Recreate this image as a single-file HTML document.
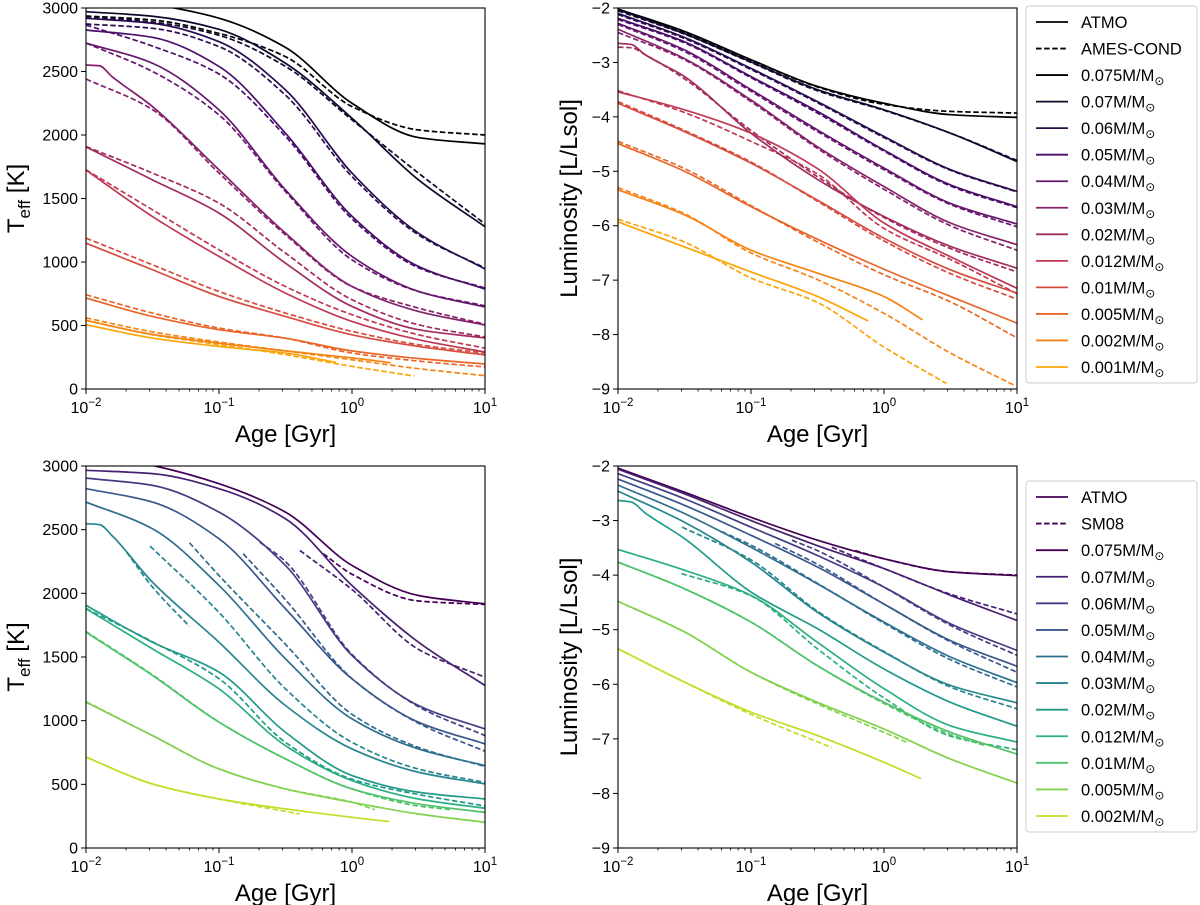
<!DOCTYPE html>
<html><head><meta charset="utf-8">
<style>
body{margin:0;background:#fff;}
svg{display:block;font-family:"Liberation Sans","DejaVu Sans",sans-serif;}
</style></head>
<body>
<svg id="fig" width="1200" height="905" viewBox="0 0 1200 905" xmlns="http://www.w3.org/2000/svg"></svg>
<script>
// ---------- shared data ----------
const GRID = [0.01, 0.0316, 0.1, 0.316, 1, 3.16, 10];
const JOG = [0.01, 0.0126, 0.0158, 0.0316, 0.1, 0.316, 1, 3.16, 10];
const topMasses = ["0.075","0.07","0.06","0.05","0.04","0.03","0.02","0.012","0.01","0.005","0.002","0.001"];
const botMasses = ["0.075","0.07","0.06","0.05","0.04","0.03","0.02","0.012","0.01","0.005","0.002"];
const yTicksTeff = [0,500,1000,1500,2000,2500,3000];
const yTicksLum = [-9,-8,-7,-6,-5,-4,-3,-2];
const xTickExp = [-2,-1,0,1];

// ---------- top-left: Teff, ATMO vs AMES-COND ----------
const tlSolidAges = [GRID,GRID,GRID,GRID,GRID,[0.01,0.0126,0.0158,0.0316,0.1,0.316,1,3.16,10],GRID,GRID,GRID,GRID,[0.01,0.0316,0.1,0.316,1,1.95],[0.01,0.0316,0.1,0.316,0.76]];
const tlSolidVals = [
 [3100,3030,2920,2690,2250,1980,1930],
 [2971,2935,2832,2565,2132,1647,1278],
 [2919,2880,2735,2355,1700,1227,945],
 [2827,2769,2540,2014,1360,965,787],
 [2724,2565,2198,1568,1044,768,646],
 [2551,2545,2457,2224,1726,1227,807,611,504],
 [1906,1647,1385,991,650,467,402],
 [1724,1358,1044,755,532,388,291],
 [1148,939,729,571,427,335,268],
 [716,571,467,400,300,240,197],
 [540,430,360,300,245,207],
 [506,401,335,283,210]
];
const tlDashAges = [GRID,GRID,GRID,GRID,GRID,GRID,GRID,GRID,GRID,GRID,GRID,[0.01,0.0316,0.1,0.316,1,2.95]];
const tlDashVals = [
 [2937,2906,2800,2617,2224,2040,2000],
 [2932,2890,2785,2540,2119,1700,1300],
 [2874,2840,2696,2314,1673,1214,952],
 [2866,2700,2480,1990,1340,955,795],
 [2724,2500,2158,1555,1017,768,655],
 [2441,2200,1700,1214,807,637,510],
 [1909,1700,1463,1070,703,506,410],
 [1726,1411,1096,807,585,427,322],
 [1188,978,768,598,454,349,283],
 [742,598,480,400,283,220,173],
 [560,450,370,300,230,160,105],
 [540,427,349,270,178,102]
];

// ---------- top-right: Luminosity, ATMO vs AMES-COND ----------
const trSolidAges = [GRID,GRID,GRID,GRID,GRID,GRID,JOG,GRID,GRID,GRID,[0.01,0.0316,0.1,0.316,1,1.95],[0.01,0.0316,0.1,0.316,0.76]];
const trSolidVals = [
 [-2.02,-2.43,-2.95,-3.44,-3.75,-3.96,-4.01],
 [-2.03,-2.47,-2.99,-3.50,-3.87,-4.30,-4.82],
 [-2.10,-2.54,-3.11,-3.72,-4.36,-4.97,-5.37],
 [-2.19,-2.62,-3.26,-3.90,-4.61,-5.25,-5.65],
 [-2.28,-2.77,-3.50,-4.24,-4.94,-5.59,-5.97],
 [-2.39,-2.93,-3.69,-4.55,-5.28,-5.95,-6.35],
 [-2.65,-2.67,-2.85,-3.26,-4.30,-5.15,-5.83,-6.38,-6.78],
 [-3.54,-3.87,-4.30,-4.95,-5.95,-6.57,-7.15],
 [-3.75,-4.27,-4.85,-5.53,-6.23,-6.81,-7.24],
 [-4.49,-5.00,-5.65,-6.25,-6.80,-7.30,-7.79],
 [-5.34,-5.80,-6.45,-6.87,-7.30,-7.73],
 [-5.93,-6.39,-6.85,-7.30,-7.75]
];
const trDashAges = [GRID,GRID,GRID,GRID,GRID,GRID,JOG,GRID,GRID,GRID,[0.01,0.0316,0.1,0.316,1,3.16,9.5],[0.01,0.0316,0.1,0.316,1,2.95]];
const trDashVals = [
 [-2.03,-2.45,-2.96,-3.45,-3.77,-3.90,-3.93],
 [-2.05,-2.48,-3.00,-3.52,-3.88,-4.30,-4.80],
 [-2.12,-2.56,-3.13,-3.74,-4.38,-4.98,-5.38],
 [-2.21,-2.64,-3.28,-3.93,-4.63,-5.27,-5.67],
 [-2.30,-2.80,-3.53,-4.27,-4.97,-5.61,-6.02],
 [-2.45,-2.95,-3.72,-4.58,-5.33,-6.00,-6.45],
 [-2.72,-2.73,-2.85,-3.30,-4.25,-5.10,-5.85,-6.42,-6.85],
 [-3.52,-3.92,-4.45,-5.05,-6.05,-6.62,-7.25],
 [-3.72,-4.25,-4.83,-5.55,-6.28,-6.88,-7.35],
 [-4.45,-4.95,-5.63,-6.30,-6.90,-7.40,-8.06],
 [-5.30,-5.78,-6.50,-6.99,-7.61,-8.34,-8.93],
 [-5.88,-6.30,-6.96,-7.41,-8.23,-8.90]
];

// ---------- bottom-left: Teff, ATMO vs SM08 ----------
const blSolidAges = [GRID,GRID,GRID,GRID,GRID,JOG,GRID,GRID,GRID,GRID,[0.01,0.0316,0.1,0.316,1,1.9]];
const blSolidVals = [
 [3100,3005,2861,2638,2219,1983,1917],
 [2966,2940,2822,2586,2062,1616,1276],
 [2905,2848,2638,2219,1512,1119,935],
 [2822,2717,2429,1879,1328,988,817],
 [2717,2507,2062,1486,1014,778,647],
 [2547,2540,2450,2088,1616,1119,778,595,503],
 [1905,1616,1381,909,569,438,385],
 [1879,1564,1250,804,529,385,312],
 [1695,1355,988,700,464,346,280],
 [1145,883,621,464,359,267,202],
 [713,503,385,307,241,207]
];
const blDashColor = [0,1,2,3,4,5,5,6,8,9,10];
const blDashAges = [[0.607,1,3.16,10],[0.405,1,3.16,10],[0.203,0.316,1,3.16,10],[0.152,0.316,1,3.16,10],[0.060,0.1,0.316,1,3.16,10],[0.0303,0.1,0.316,1,3.16,10],[0.0202,0.0316,0.06],GRID,[0.01,0.0316,0.1,0.316,1,3.16,5.7],[0.01,0.0316,0.1,0.316,1,1.48],[0.01,0.0316,0.1,0.405]];
const blDashVals = [
 [2311,2150,1940,1913],
 [2337,2030,1560,1341],
 [2402,2250,1520,1110,883],
 [2311,1950,1330,980,760],
 [2397,2140,1600,1050,790,640],
 [2371,1850,1250,830,620,515],
 [2324,2050,1740],
 [1880,1620,1330,830,540,420,330],
 [1700,1360,990,700,464,330,300],
 [1150,883,621,464,359,301],
 [713,503,385,267]
];

// ---------- bottom-right: Luminosity, ATMO vs SM08 ----------
const brSolidAges = [GRID,GRID,GRID,GRID,GRID,GRID,JOG,GRID,GRID,GRID,[0.01,0.0316,0.1,0.316,1,1.9]];
const brSolidVals = [
 [-2.04,-2.48,-2.94,-3.36,-3.70,-3.94,-4.01],
 [-2.06,-2.51,-3.00,-3.46,-3.88,-4.37,-4.83],
 [-2.14,-2.60,-3.12,-3.64,-4.22,-4.89,-5.38],
 [-2.24,-2.72,-3.27,-3.85,-4.53,-5.20,-5.67],
 [-2.35,-2.87,-3.49,-4.16,-4.86,-5.50,-5.97],
 [-2.46,-3.03,-3.76,-4.68,-5.41,-6.02,-6.34],
 [-2.63,-2.66,-2.85,-3.33,-4.31,-4.98,-5.72,-6.33,-6.77],
 [-3.53,-3.91,-4.37,-5.23,-6.08,-6.76,-7.06],
 [-3.76,-4.25,-4.86,-5.66,-6.33,-6.88,-7.28],
 [-4.48,-5.04,-5.78,-6.33,-6.82,-7.37,-7.81],
 [-5.35,-5.96,-6.51,-6.94,-7.43,-7.73]
];
const brDashColor = [0,1,2,3,4,5,7,8,9,10];
const brDashAges = [[0.607,1,3.16,10],[0.405,1,3.16,10],[0.203,0.316,1,3.16,10],[0.152,0.316,1,3.16,10],[0.060,0.1,0.316,1,3.16,10],[0.0303,0.1,0.316,1,3.16,10],[0.03,0.1,0.316,1,3.16,10],[0.01,0.0316,0.1,0.316,1,3.16,5.7],[0.01,0.0316,0.1,0.316,1,1.48],[0.01,0.0316,0.1,0.405]];
const brDashVals = [
 [-3.55,-3.70,-3.94,-4.00],
 [-3.49,-3.88,-4.35,-4.71],
 [-3.36,-3.55,-4.22,-4.92,-5.47],
 [-3.42,-3.80,-4.53,-5.22,-5.78],
 [-3.20,-3.45,-4.15,-4.88,-5.55,-6.05],
 [-3.12,-3.72,-4.66,-5.40,-6.05,-6.45],
 [-3.97,-4.38,-5.35,-6.25,-6.95,-7.20],
 [-3.76,-4.25,-4.86,-5.66,-6.35,-6.92,-7.12],
 [-4.48,-5.04,-5.78,-6.36,-6.88,-7.06],
 [-5.35,-5.96,-6.55,-7.16]
];

// ---------- colormaps ----------
const INFERNO = ["#000004","#160b39","#420a68","#6a176e","#932667","#bc3754","#dd513a","#f37819","#fca50a","#f6d746","#fcffa4"];
const VIRIDIS = ["#440154","#482475","#414487","#355f8d","#2a788e","#21918c","#22a884","#44bf70","#7ad151","#bddf26","#fde725"];
function cmap(stops, t){
  const p = t*(stops.length-1), i = Math.min(Math.floor(p), stops.length-2), f = p-i;
  const a = parseInt(stops[i].slice(1),16), b = parseInt(stops[i+1].slice(1),16);
  const ch = s => Math.round(((a>>s)&255)*(1-f)+((b>>s)&255)*f);
  return `rgb(${ch(16)},${ch(8)},${ch(0)})`;
}
const topColors = topMasses.map((m,i)=>cmap(INFERNO, i/11*0.8));
const botColors = botMasses.map((m,i)=>cmap(VIRIDIS, i/10*0.9));

// ---------- drawing helpers ----------
const NS = "http://www.w3.org/2000/svg";
const fig = document.getElementById("fig");
function mk(tag, attrs, parent){
  const e = document.createElementNS(NS, tag);
  for (const k in attrs) e.setAttribute(k, attrs[k]);
  (parent||fig).appendChild(e);
  return e;
}
// monotone cubic (Fritsch-Carlson) in pixel space; x increasing
function smoothPath(pts){
  const n = pts.length;
  if (n < 2) return "";
  const dx = [], s = [];
  for (let i=0;i<n-1;i++){ dx[i]=pts[i+1][0]-pts[i][0]; s[i]=(pts[i+1][1]-pts[i][1])/dx[i]; }
  const m = new Array(n);
  m[0]=s[0]; m[n-1]=s[n-2];
  for (let i=1;i<n-1;i++){
    if (s[i-1]*s[i] <= 0) m[i]=0;
    else { const w1=2*dx[i]+dx[i-1], w2=dx[i]+2*dx[i-1]; m[i]=(w1+w2)/(w1/s[i-1]+w2/s[i]); }
  }
  let d = `M${pts[0][0].toFixed(2)},${pts[0][1].toFixed(2)}`;
  for (let i=0;i<n-1;i++){
    const h = dx[i]/3;
    d += ` C${(pts[i][0]+h).toFixed(2)},${(pts[i][1]+m[i]*h).toFixed(2)} ${(pts[i+1][0]-h).toFixed(2)},${(pts[i+1][1]-m[i+1]*h).toFixed(2)} ${pts[i+1][0].toFixed(2)},${pts[i+1][1].toFixed(2)}`;
  }
  return d;
}

function drawPanel(cfg){
  const g = mk("g", {});
  
  
  const xs = a => cfg.x0 + (Math.log10(a)+2)/3*(cfg.x1-cfg.x0);
  const ys = v => cfg.yb - (v-cfg.ymin)/(cfg.ymax-cfg.ymin)*(cfg.yb-cfg.yt);
  const clipId = cfg.name+"-clip";
  const cp = mk("clipPath", {id: clipId}, g);
  mk("rect", {x: cfg.x0, y: cfg.yt, width: cfg.x1-cfg.x0, height: cfg.yb-cfg.yt}, cp);
  const lines = mk("g", {"clip-path": `url(#${clipId})`}, g);
  
  
  const series = (ages, vals, colorIdx, dashed, label) => {
    vals.forEach((arr, i) => {
      const ag = ages[i];
      const pts = arr.map((v,j)=>[xs(ag[j]), ys(v)]);
      const p = mk("path", {d: smoothPath(pts), fill:"none", stroke: cfg.colors[colorIdx ? colorIdx[i] : i], "stroke-width": 1.7, "stroke-dasharray": dashed ? "5.5,2.6" : "none", "stroke-linejoin":"round"}, lines);
      
      
    });
  };
  series(cfg.dAges, cfg.dVals, cfg.dColor, true, cfg.dLabel);
  series(cfg.sAges, cfg.sVals, null, false, "atmo");

  const fr = mk("rect", {x: cfg.x0, y: cfg.yt, width: cfg.x1-cfg.x0, height: cfg.yb-cfg.yt, fill:"none", stroke:"#000", "stroke-width":1.1}, g);
  
  

  xTickExp.forEach(e => {
    const x = xs(Math.pow(10,e));
    mk("line", {x1:x, x2:x, y1:cfg.yb, y2:cfg.yb+5, stroke:"#000", "stroke-width":1}, g);
    const t = mk("text", {x:x, y:cfg.yb+24, "font-size":16, "text-anchor":"middle"}, g);
    
    
    t.innerHTML = `10<tspan dy="-7" font-size="11.5">${e<0?'\u2212'+(-e):e}</tspan>`;
    if (e < 1) for (let k=2;k<10;k++){
      const xm = xs(k*Math.pow(10,e));
      mk("line", {x1:xm, x2:xm, y1:cfg.yb, y2:cfg.yb+2.5, stroke:"#000", "stroke-width":0.8}, g);
    }
  });
  cfg.yticks.forEach(v => {
    const y = ys(v);
    mk("line", {x1:cfg.x0-5, x2:cfg.x0, y1:y, y2:y, stroke:"#000", "stroke-width":1}, g);
    const t = mk("text", {x:cfg.x0-8, y:y+5.5, "font-size":16, "text-anchor":"end"}, g);
    
    
    t.textContent = v<0 ? '\u2212'+(-v) : String(v);
  });
  const xt = mk("text", {x:(cfg.x0+cfg.x1)/2, y:cfg.yb+53, "font-size":24, "text-anchor":"middle"}, g);
  
  
  xt.textContent = "Age [Gyr]";
  const yc = (cfg.yt+cfg.yb)/2;
  const yt = mk("text", {x:cfg.ylx, y:yc, "font-size":24, "text-anchor":"middle", transform:`rotate(-90 ${cfg.ylx} ${yc})`}, g);
  
  
  if (cfg.teff) yt.innerHTML = 'T<tspan dy="6" font-size="17">eff</tspan><tspan dy="-6"> [K]</tspan>';
  else yt.textContent = "Luminosity [L/Lsol]";
}

function drawLegend(name, x, y, h, compLabel, masses, colors){
  const g = mk("g", {});
  
  
  const r = mk("rect", {x:x, y:y, width:171, height:h, rx:3, fill:"#fff", stroke:"#ccc", "stroke-width":1}, g);
  
  
  const entries = [["ATMO","#000",false],[compLabel,"#000",true]].concat(masses.map((m,i)=>[m,colors[i],false,true]));
  if (name === "legend-bottom"){ entries[0][1] = colors[0]; entries[1][1] = colors[0]; }
  const step = (h-32)/(entries.length-1);
  entries.forEach((e,i) => {
    const cy = y+16+i*step;
    const eg = mk("g", {}, g);
    
    
    mk("line", {x1:x+10, x2:x+42, y1:cy, y2:cy, stroke:e[1], "stroke-width":1.8, "stroke-dasharray": e[2] ? "5.5,2.6" : "none"}, eg);
    const t = mk("text", {x:x+55, y:cy+6, "font-size":16.5}, eg);
    if (e[3]) t.innerHTML = `${e[0]}M/M<tspan dy="4" font-size="12">\u2299</tspan>`;
    else t.textContent = e[0];
  });
}

drawPanel({name:"teff-ames-panel", x0:86, x1:485, yt:8, yb:389, ymin:0, ymax:3000, yticks:yTicksTeff, teff:true, ylx:24,
  colors:topColors, masses:topMasses, sAges:tlSolidAges, sVals:tlSolidVals, dAges:tlDashAges, dVals:tlDashVals, dColor:null, dLabel:"ames-cond"});
drawPanel({name:"lum-ames-panel", x0:618, x1:1017, yt:8, yb:389, ymin:-9, ymax:-2, yticks:yTicksLum, teff:false, ylx:577,
  colors:topColors, masses:topMasses, sAges:trSolidAges, sVals:trSolidVals, dAges:trDashAges, dVals:trDashVals, dColor:null, dLabel:"ames-cond"});
drawPanel({name:"teff-sm08-panel", x0:86, x1:485, yt:466, yb:848, ymin:0, ymax:3000, yticks:yTicksTeff, teff:true, ylx:24,
  colors:botColors, masses:botMasses, sAges:blSolidAges, sVals:blSolidVals, dAges:blDashAges, dVals:blDashVals, dColor:blDashColor, dLabel:"sm08"});
drawPanel({name:"lum-sm08-panel", x0:618, x1:1017, yt:466, yb:848, ymin:-9, ymax:-2, yticks:yTicksLum, teff:false, ylx:577,
  colors:botColors, masses:botMasses, sAges:brSolidAges, sVals:brSolidVals, dAges:brDashAges, dVals:brDashVals, dColor:brDashColor, dLabel:"sm08"});

drawLegend("legend-top", 1026, 6, 377, "AMES-COND", topMasses, topColors);
drawLegend("legend-bottom", 1026, 481, 351, "SM08", botMasses, botColors);
</script>
</body></html>
